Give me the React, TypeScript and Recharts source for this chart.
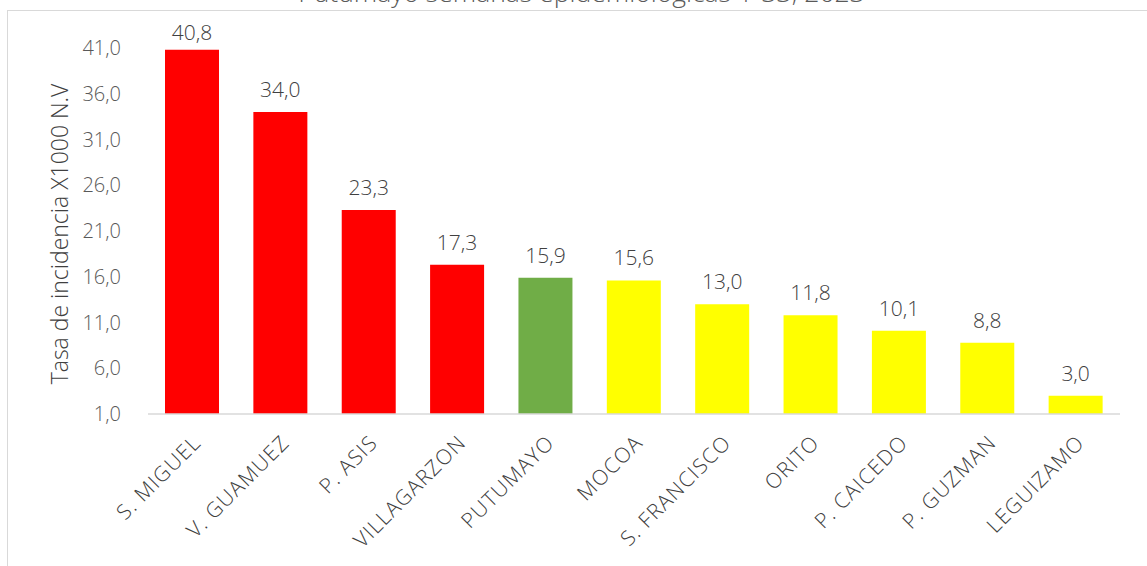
import { BarChart, Bar, XAxis, YAxis, Cell, LabelList, Label } from "recharts";

const MUNICIPIOS = [
  "S. MIGUEL",
  "V. GUAMUEZ",
  "P. ASIS",
  "VILLAGARZON",
  "PUTUMAYO",
  "MOCOA",
  "S. FRANCISCO",
  "ORITO",
  "P. CAICEDO",
  "P. GUZMAN",
  "LEGUIZAMO",
];
const TASAS = [40.8, 34.0, 23.3, 17.3, 15.9, 15.6, 13.0, 11.8, 10.1, 8.8, 3.0];
const NIVELES = ["alto", "alto", "alto", "alto", "dpto", "medio", "medio", "medio", "medio", "medio", "medio"];
const Y_TICKS = [1, 6, 11, 16, 21, 26, 31, 36, 41];

const COLORES: Record<string, string> = {
  alto: "#FF0000",
  dpto: "#70AD47",
  medio: "#FFFF00",
};

const FONT = "'Open Sans', 'Noto Sans', sans-serif";

const fmt = (v: number) => v.toFixed(1).replace(".", ",");

const data = MUNICIPIOS.map((m, i) => ({ name: m, tasa: TASAS[i], nivel: NIVELES[i] }));

// eslint-disable-next-line @typescript-eslint/no-explicit-any
function YTick({ x, y, payload }: any) {
  return (
    <text x={x - 25} y={y} dy={7} textAnchor="end" fill="#595959" fontSize={20} fontFamily={FONT} fontWeight={300}>
      {fmt(payload.value)}
    </text>
  );
}

// eslint-disable-next-line @typescript-eslint/no-explicit-any
function XTick({ x, y, payload }: any) {
  const ax = x + 10;
  const ay = y + 28;
  return (
    <text
      x={ax}
      y={ay}
      transform={`rotate(-45 ${ax} ${ay})`}
      textAnchor="end"
      fill="#404040"
      fontSize={21}
      letterSpacing={1.2}
      fontFamily={FONT}
      fontWeight={300}
    >
      {payload.value}
    </text>
  );
}

// eslint-disable-next-line @typescript-eslint/no-explicit-any
function ValueLabel({ x, y, width, value }: any) {
  // Excel mantiene la etiqueta dentro del área del gráfico
  const ty = Math.max(y - 15, 40);
  return (
    <text x={x + width / 2} y={ty} textAnchor="middle" fill="#404040" fontSize={21} fontFamily={FONT} fontWeight={300}>
      {fmt(value)}
    </text>
  );
}

export default function App() {
  return (
    <div style={{ position: "relative", width: 1147, height: 566, overflow: "hidden", background: "#fff" }}>
      <style>{"body{margin:0}"}</style>
      <div
        style={{
          position: "absolute",
          left: 7,
          top: 10,
          width: 1160,
          height: 580,
          borderLeft: "1.5px solid #d9d9d9",
          borderTop: "1.5px solid #d9d9d9",
        }}
      />
      <div
        style={{
          position: "absolute",
          left: 0,
          width: 1147,
          top: -23,
          textAlign: "center",
          fontFamily: FONT,
          fontWeight: 300,
          fontSize: 26.5,
          color: "#595959",
          lineHeight: "30px",
          paddingLeft: 8,
        }}
      >
        Putumayo semanas epidemiológicas 1-33, 2023
      </div>
      <div style={{ position: "absolute", left: 0, top: 0 }}>
        <BarChart width={1147} height={566} data={data} margin={{ top: 48, right: 27, bottom: 0, left: 0 }} barSize={54}>
          <YAxis
            width={148}
            domain={[1, 41]}
            ticks={Y_TICKS}
            axisLine={false}
            tickLine={false}
            tickSize={0}
            tick={<YTick />}
            interval={0}
          >
            <Label
              position="insideLeft"
              content={({ viewBox }: any) => {
                const cy = viewBox.y + viewBox.height / 2 + 3;
                return (
                  <text
                    x={68}
                    y={cy}
                    transform={`rotate(-90 68 ${cy})`}
                    textAnchor="middle"
                    fill="#404040"
                    fontSize={23}
                    fontFamily={FONT}
                    fontWeight={300}
                  >
                    Tasa de incidencia X1000 N.V
                  </text>
                );
              }}
            />
          </YAxis>
          <XAxis
            dataKey="name"
            interval={0}
            tickLine={false}
            tickSize={0}
            axisLine={{ stroke: "#d9d9d9", strokeWidth: 1.5 }}
            tick={<XTick />}
            height={152}
          />
          <Bar dataKey="tasa" isAnimationActive={false}>
            {data.map((d, i) => (
              <Cell key={i} fill={COLORES[d.nivel]} />
            ))}
            <LabelList dataKey="tasa" content={<ValueLabel />} />
          </Bar>
        </BarChart>
      </div>
    </div>
  );
}
